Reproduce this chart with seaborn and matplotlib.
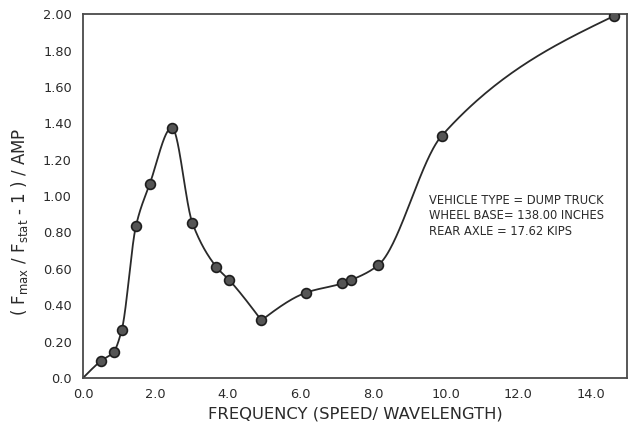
import numpy as np
import pandas as pd
import matplotlib
matplotlib.use("Agg")
import matplotlib.pyplot as plt
import seaborn as sns

# Measured response points: frequency vs. normalised dynamic load
frequency = [0.49, 0.85, 1.07, 1.46, 1.84, 2.45, 3.02, 3.68, 4.04, 4.92,
             6.15, 7.15, 7.39, 8.14, 9.89, 14.64]
response = [0.093, 0.145, 0.265, 0.835, 1.066, 1.376, 0.85, 0.61, 0.537, 0.317,
            0.469, 0.52, 0.538, 0.62, 1.331, 1.99]
# The faired curve starts at the origin
curve_start = (0.0, 0.0)
# Index of the sharp minimum where the faired curve has a corner
corner_index = 9

x_ticks = [0, 2, 4, 6, 8, 10, 12, 14]
x_tick_labels = ["0.0", "2.0", "4.0", "6.0", "8.0", "10.0", "12.0", "14.0"]
y_ticks = [0.0, 0.2, 0.4, 0.6, 0.8, 1.0, 1.2, 1.4, 1.6, 1.8, 2.0]
y_tick_labels = ["0.0", "0.20", "0.40", "0.60", "0.80", "1.00", "1.20",
                 "1.40", "1.60", "1.80", "2.00"]
info_lines = ["VEHICLE TYPE = DUMP TRUCK",
              "WHEEL BASE= 138.00 INCHES",
              "REAR AXLE = 17.62 KIPS"]


def faired_curve(xk, yk, per_segment=60):
    """Shape-preserving cubic Hermite (Fritsch-Carlson) through the knots."""
    xk = np.asarray(xk, float)
    yk = np.asarray(yk, float)
    h = np.diff(xk)
    d = np.diff(yk) / h
    n = len(xk)
    m = np.zeros(n)
    for i in range(1, n - 1):
        if d[i - 1] * d[i] > 0:
            w1 = 2 * h[i] + h[i - 1]
            w2 = h[i] + 2 * h[i - 1]
            m[i] = (w1 + w2) / (w1 / d[i - 1] + w2 / d[i])

    def end_slope(dd, mm):
        guess = 2 * dd - mm
        if guess * dd <= 0:
            guess = 0.0
        return 0.5 * (dd + guess)

    m[0] = end_slope(d[0], m[1])
    m[-1] = end_slope(d[-1], m[-2])

    xs, ys = [], []
    for i in range(n - 1):
        t = np.linspace(0, 1, per_segment, endpoint=(i == n - 2))
        h00 = 2 * t ** 3 - 3 * t ** 2 + 1
        h10 = t ** 3 - 2 * t ** 2 + t
        h01 = -2 * t ** 3 + 3 * t ** 2
        h11 = t ** 3 - t ** 2
        xs.append(xk[i] + t * h[i])
        ys.append(h00 * yk[i] + h10 * h[i] * m[i]
                  + h01 * yk[i + 1] + h11 * h[i] * m[i + 1])
    return np.concatenate(xs), np.concatenate(ys)


cx = [curve_start[0]] + frequency
cy = [curve_start[1]] + response
k = corner_index + 1
xa, ya = faired_curve(cx[:k + 1], cy[:k + 1])
xb, yb = faired_curve(cx[k:], cy[k:])
curve = pd.DataFrame({"x": np.concatenate([xa, xb[1:]]),
                      "y": np.concatenate([ya, yb[1:]])})
points = pd.DataFrame({"x": frequency, "y": response})

sns.set_style("white")
plt.rcParams["font.family"] = ["DejaVu Sans"]
ink = "#2a2a2a"

fig = plt.figure(figsize=(6.32, 4.30), dpi=100)
ax = fig.add_axes([0.1313, 0.121, 0.8607, 0.846])

sns.lineplot(data=curve, x="x", y="y", sort=False, estimator=None,
             color=ink, linewidth=1.3, ax=ax)
sns.scatterplot(data=points, x="x", y="y", s=50, color="#555555",
                edgecolor="#1e1e1e", linewidth=1.2, zorder=3, ax=ax)

ax.set_xlim(0, 15)
ax.set_ylim(0, 2.0)
ax.set_xticks(x_ticks)
ax.set_xticklabels(x_tick_labels)
ax.set_xticks(np.arange(1, 15, 2), minor=True)
ax.set_yticks(y_ticks)
ax.set_yticklabels(y_tick_labels)

ax.tick_params(axis="both", which="both", direction="in", colors="#555555",
               labelcolor=ink, labelsize=9.3, width=1.0)
ax.tick_params(axis="x", which="both", length=5, pad=7)
ax.tick_params(axis="y", which="both", length=4, pad=8)

for side in ["left", "right", "top", "bottom"]:
    ax.spines[side].set_visible(True)
    ax.spines[side].set_color("#4a4a4a")
    ax.spines[side].set_linewidth(1.3)

ax.set_xlabel("FREQUENCY (SPEED/ WAVELENGTH)", fontsize=11.8, color=ink,
              labelpad=4)
ax.set_ylabel(r"( F$_{\mathregular{max}}$ / F$_{\mathregular{stat}}$ - 1 ) / AMP",
              fontsize=12, color=ink)
ax.yaxis.set_label_coords(-0.097, 0.43)

for i, line in enumerate(info_lines):
    ax.text(0.637, 0.489 - i * 0.0426, line, transform=ax.transAxes,
            fontsize=8.3, color=ink, ha="left", va="center")

fig.savefig("out.png", dpi=100, facecolor="white")
